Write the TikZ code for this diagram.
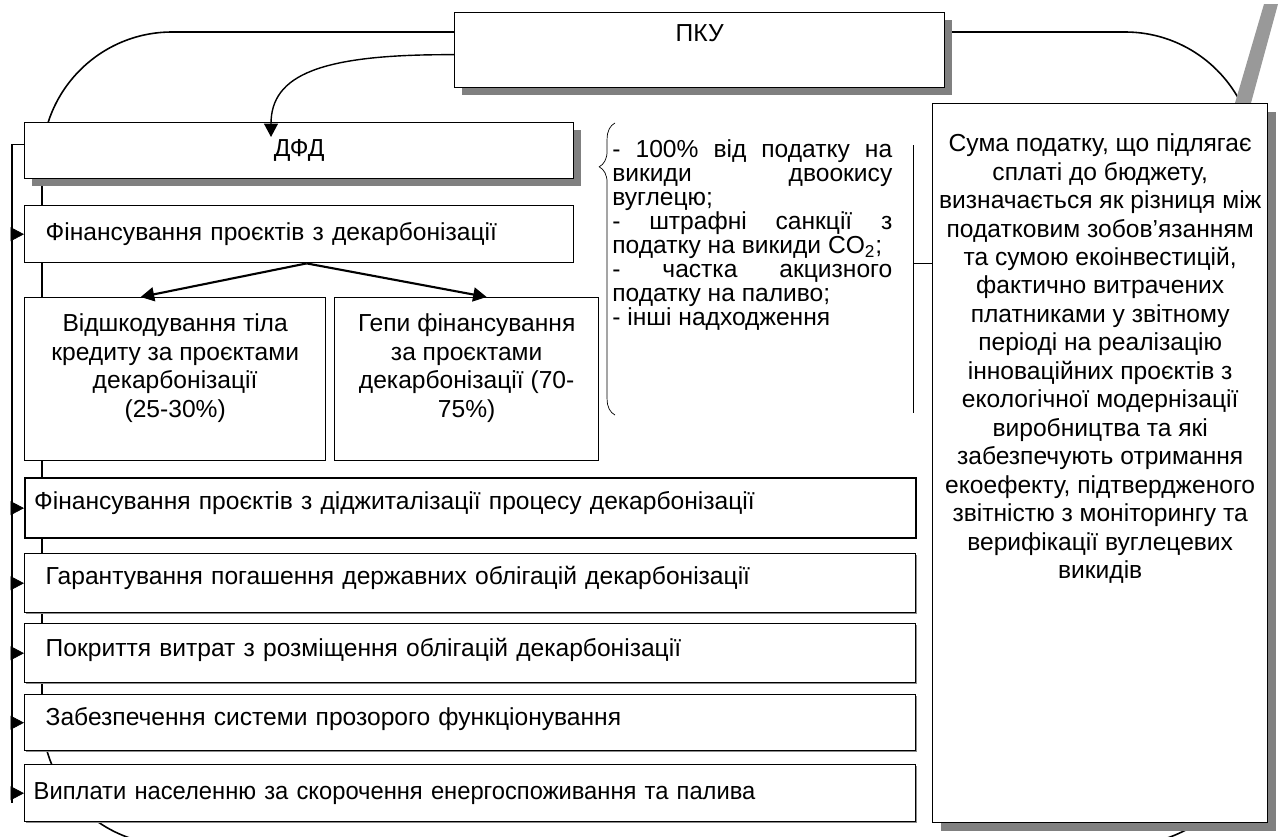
\documentclass[tikz,border=0pt]{standalone}
\usepackage{fontspec}
\setmainfont{Liberation Sans}
\usetikzlibrary{positioning, shadows, arrows.meta, decorations.pathreplacing}
\setlength{\parindent}{0pt}

\begin{document}
\begin{tikzpicture}[x=0.02cm, y=-0.02cm,
	font=\fontsize{14}{16.2}\selectfont,
	box/.style={draw, fill=white, line width=0.8pt, anchor=north west, inner sep=0pt},
	shade/.style={general shadow={fill=black!50, shadow xshift=0.15cm, shadow yshift=-0.15cm}},
	thinshade/.style={general shadow={fill=black!45, shadow xshift=0.035cm, shadow yshift=-0.035cm}},
	arr/.style={-{Triangle[length=0.27cm, width=0.28cm]}},
	]
	\useasboundingbox (0,0) rectangle (1278,836);

	% frame behind all boxes
	\begin{scope}
		\clip (0,0) rectangle (1278,836);
		\draw[line width=0.9pt, rounded corners=2.6cm] (42,32) rectangle (1255,845);
	\end{scope}
	\fill[black!40] (1264,4) -- (1278,4) -- (1251,103) -- (1235,103) -- cycle;

	\node[box, shade, minimum width=9.8cm, minimum height=1.5cm] (pku) at (454,12) {};
	\node[below=0.25cm of pku.north, inner sep=0pt] (pkutxt) {ПКУ};
	\node[box, shade, minimum width=10.98cm, minimum height=1.12cm] (dfd) at (24,122) {ДФД};
	\node[box, minimum height=1.14cm, inner xsep=0.42cm, text width=10.14cm] (fin) at (24,205) {Фінансування проєктів з декарбонізації};

	\node[box, minimum width=6.02cm, minimum height=3.26cm] (vid) at (24,297) {};
	\node[box, minimum width=5.28cm, minimum height=3.26cm] (gep) at (334,297) {};
	\node[below=0.33cm of vid.north, inner sep=0pt, align=center] (vidtxt) {Відшкодування тіла\\кредиту за проєктами\\декарбонізації\\(25-30\%)};
	\node[below=0.33cm of gep.north, inner sep=0pt, align=center] (geptxt) {Гепи фінансування\\за проєктами\\декарбонізації (70-\\75\%)};

	\node[box, line width=1.3pt, minimum height=1.2cm, inner xsep=0.18cm, text width=17.46cm, text depth=0.3cm] (dig) at (24,477) {Фінансування проєктів з діджиталізації процесу декарбонізації};
	\node[box, thinshade, minimum height=1.18cm, inner xsep=0.42cm, text width=16.98cm, text depth=0.3cm] (gar) at (24,553) {Гарантування погашення державних облігацій декарбонізації};
	\node[box, thinshade, minimum height=1.18cm, inner xsep=0.42cm, text width=16.98cm, text depth=0.25cm] (pok) at (24,623) {Покриття витрат з розміщення облігацій декарбонізації};
	\node[box, thinshade, minimum height=1.12cm, inner xsep=0.42cm, text width=16.98cm, text depth=0.25cm] (zab) at (24,694) {Забезпечення системи прозорого функціонування};
	\node[box, thinshade, minimum height=1.14cm, inner xsep=0.18cm, text width=17.46cm,
		font=\fontsize{14}{16.2}\selectfont\addfontfeatures{FakeStretch=0.965}] (vyp) at (24,764) {Виплати населенню за скорочення енергоспоживання та палива};

	\node[box, general shadow={fill=black!50, shadow xshift=0.16cm, shadow yshift=-0.16cm}, minimum width=6.7cm, minimum height=14.38cm] (suma) at (932,103) {};
	\node[below=0.61cm of suma.north, inner sep=0pt, align=center] (sumatxt) {Сума податку, що підлягає\\сплаті до бюджету,\\визначається як різниця між\\податковим зобов’язанням\\та сумою екоінвестицій,\\фактично витрачених\\платниками у звітному\\періоді на реалізацію\\інноваційних проєктів з\\екологічної модернізації\\виробництва та які\\забезпечують отримання\\екоефекту, підтвердженого\\звітністю з моніторингу та\\верифікації вуглецевих\\викидів};

	% sources of the fund
	\node[anchor=north west, inner sep=0pt, text width=5.6cm, align=justify,
		font=\fontsize{14}{13.7}\selectfont] (dzherela) at (612,139) {- 100\% від податку на\linebreak викиди двоокису\linebreak вуглецю;\par - штрафні санкції з\linebreak податку на викиди CO\textsubscript{2};\par - частка акцизного\linebreak податку на паливо;\par - інші надходження};
	\draw[decorate, decoration={brace, amplitude=9pt, aspect=0.85}] (615,415) -- (615,123);

	\coordinate (bartop) at (913,145);
	\coordinate (barbot) at (913,413);
	\coordinate (barmid) at (913,263);
	\draw (bartop) -- (barbot);
	\draw (barmid) -- (barmid -| suma.west);

	% connectors
	\coordinate (dfdin) at (271,137);
	\draw[arr, line width=0.8pt] ([yshift=-0.09cm]pku.west) .. controls (320,54) and (271,75) .. (dfdin);
	\draw[arr, line width=1.2pt] ([xshift=0.15cm]fin.south) -- ([xshift=-0.69cm]vid.north);
	\draw[arr, line width=1.2pt] ([xshift=0.15cm]fin.south) -- ([xshift=0.4cm]gep.north);

	\coordinate (spine) at (12,803);
	\draw[line width=0.8pt] ([yshift=0.12cm]dfd.west) -- ([yshift=0.12cm]dfd.west -| spine) -- (spine);
	\foreach \b in {fin, dig, gar, pok, zab, vyp}
		\draw[arr] (\b.west -| spine) -- (\b.west);
\end{tikzpicture}
\end{document}
